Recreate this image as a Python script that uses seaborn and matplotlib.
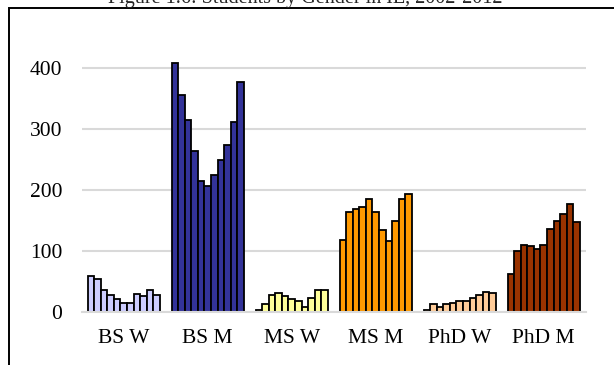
import matplotlib
matplotlib.use("Agg")
import matplotlib.pyplot as plt
from matplotlib.patches import Rectangle
import seaborn as sns
import pandas as pd

# Enrolment counts per degree / gender group, one value per year 2002-2012
years = list(range(2002, 2013))
groups = ["BS W", "BS M", "MS W", "MS M", "PhD W", "PhD M"]
bs_w = [60, 55, 37, 28, 22, 15, 16, 30, 27, 36, 28]
bs_m = [408, 356, 315, 265, 215, 207, 225, 250, 274, 311, 377]
ms_w = [3, 13, 29, 32, 26, 21, 18, 9, 24, 36, 36]
ms_m = [119, 164, 170, 173, 185, 165, 135, 116, 150, 186, 194]
phd_w = [4, 14, 9, 14, 15, 18, 19, 24, 28, 33, 32]
phd_m = [62, 100, 111, 109, 104, 111, 137, 150, 161, 178, 148]
group_colors = ["#CCCCFF", "#333399", "#FFFF99", "#FF9900", "#FFCC99", "#993300"]

series = [bs_w, bs_m, ms_w, ms_m, phd_w, phd_m]
df = pd.DataFrame(
    [(g, y, v) for g, vals in zip(groups, series) for y, v in zip(years, vals)],
    columns=["group", "year", "students"],
)

sns.set_theme(style="white")
plt.rcParams["font.family"] = ["Liberation Serif", "DejaVu Serif"]

fig = plt.figure(figsize=(6.14, 3.65), dpi=100)
ax = fig.add_axes([0.133, 0.1444, 0.821, 0.7526])

sns.barplot(
    data=df, x="group", y="students", hue="year", order=groups,
    width=0.86, dodge=True, edgecolor="black", linewidth=1.3,
    palette=["#888888"] * len(years), legend=False, ax=ax, errorbar=None,
)

# each year is a hue level; colour the bars by their degree group instead
for container in ax.containers:
    for i, bar in enumerate(container):
        bar.set_facecolor(group_colors[i])

ax.set_ylim(0, 450)
ax.set_xlim(-0.5, len(groups) - 0.5)
ax.set_yticks([0, 100, 200, 300, 400])
ax.yaxis.grid(True, color="#D9D9D9", linewidth=1.5)
ax.set_axisbelow(True)
for side in ["top", "right", "left"]:
    ax.spines[side].set_visible(False)
ax.spines["bottom"].set_color("#D9D9D9")
ax.spines["bottom"].set_linewidth(1.5)
ax.tick_params(axis="both", length=0, labelsize=15.5, colors="black")
ax.tick_params(axis="y", pad=14)
ax.tick_params(axis="x", pad=12)
ax.set_xlabel("")
ax.set_ylabel("")

# outer chart frame
fig.patches.append(Rectangle((9 / 614, -0.1), 1.2, 1 - 7.5 / 365 + 0.1,
                             transform=fig.transFigure, fill=False,
                             edgecolor="black", linewidth=1.4))

fig.text(0.497, 1 - 3 / 365, "Figure 1.6: Students by Gender in IE, 2002-2012",
         ha="center", va="baseline", fontsize=14.5)

fig.savefig("out.png", dpi=100)
